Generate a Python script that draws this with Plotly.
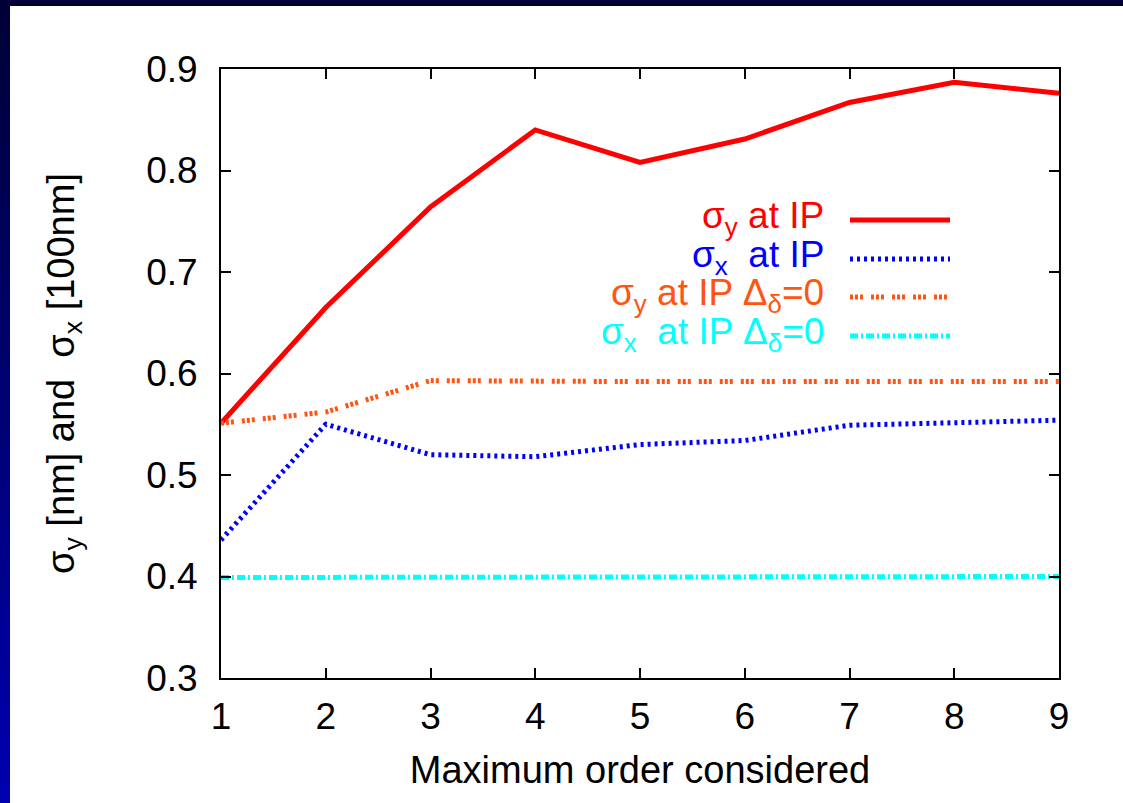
import plotly.graph_objects as go

orders = [1, 2, 3, 4, 5, 6, 7, 8, 9]
sigy_ip = [0.551, 0.665, 0.764, 0.840, 0.808, 0.831, 0.867, 0.887, 0.876]
sigx_ip = [0.436, 0.550, 0.520, 0.518, 0.530, 0.534, 0.549, 0.551, 0.554]
sigy_ip_d0 = [0.551, 0.562, 0.593, 0.592, 0.592, 0.592, 0.592, 0.592, 0.592]
sigx_ip_d0 = [0.399, 0.399, 0.399, 0.400, 0.400, 0.400, 0.400, 0.400, 0.400]

names = ["σ<sub>y</sub> at IP", "σ<sub>x</sub>  at IP",
         "σ<sub>y</sub> at IP Δ<sub>δ</sub>=0", "σ<sub>x</sub>  at IP Δ<sub>δ</sub>=0"]
colors = ["#ff0000", "#0000ff", "#ff5412", "#00ffff"]
dashes = ["solid", "3px,4px", "3px,2px,3px,2px,3px,8px", "8px,3px,2px,3px"]
series = [sigy_ip, sigx_ip, sigy_ip_d0, sigx_ip_d0]

W, H = 1123, 803
L, R, T, B = 221, 1059, 69, 678
pw, ph = R - L, B - T

def px(x):
    return (x - L) / pw

def py(y):
    return (B - y) / ph

fig = go.Figure()
for ys, c, d in zip(series, colors, dashes):
    fig.add_trace(go.Scatter(x=orders, y=ys, mode="lines",
                             line=dict(color=c, width=5, dash=d),
                             showlegend=False, hoverinfo="skip"))

shapes = []
# white panel
shapes.append(dict(type="rect", xref="paper", yref="paper", layer="below",
                   x0=px(10), x1=px(W + 5), y0=py(H + 5), y1=py(6),
                   fillcolor="white", line=dict(width=0)))
# top band
shapes.append(dict(type="rect", xref="paper", yref="paper", layer="below",
                   x0=px(-5), x1=px(W + 5), y0=py(6), y1=py(-5),
                   fillcolor="#000036", line=dict(width=0)))
# left gradient band
n = 40
for i in range(n):
    y0 = i * H / n - (5 if i == 0 else 0)
    y1 = (i + 1) * H / n + (1 if i < n - 1 else 5)
    f = (i + 0.5) / n
    b = int(0x36 + (0xb0 - 0x36) * f)
    shapes.append(dict(type="rect", xref="paper", yref="paper", layer="below",
                       x0=px(-5), x1=px(10), y0=py(y1), y1=py(y0),
                       fillcolor=f"rgb(0,0,{b})", line=dict(width=0)))

# legend
rows = [218, 257, 295, 334]
annotations = []
for nm, c, d, yy in zip(names, colors, dashes, rows):
    annotations.append(dict(text=nm, xref="paper", yref="paper", x=px(826), y=py(yy),
                            xanchor="right", yanchor="middle", showarrow=False,
                            font=dict(color=c, size=37, family="Liberation Sans, Arial")))
    shapes.append(dict(type="line", xref="paper", yref="paper",
                       x0=px(850), x1=px(950), y0=py(yy + 2), y1=py(yy + 2),
                       line=dict(color=c, width=5, dash=d)))

axis_common = dict(showline=True, linecolor="black", linewidth=2, mirror="allticks",
                   ticks="inside", ticklen=10, tickwidth=2, tickcolor="black",
                   showgrid=False, zeroline=False,
                   tickfont=dict(size=37, color="black", family="Liberation Sans, Arial"))

fig.update_layout(
    width=W, height=H,
    margin=dict(l=L, r=W - R, t=T, b=H - B),
    paper_bgcolor="#000036", plot_bgcolor="white",
    font=dict(family="Liberation Sans, Arial", color="black"),
    shapes=shapes, annotations=annotations,
    xaxis=dict(range=[1, 9], tickvals=orders, ticklabelstandoff=5, **axis_common,
               title=dict(text="Maximum order considered", standoff=20,
                          font=dict(size=38, color="black"))),
    yaxis=dict(range=[0.3, 0.9], tickvals=[0.3, 0.4, 0.5, 0.6, 0.7, 0.8, 0.9],
               ticktext=["0.3", "0.4", "0.5", "0.6", "0.7", "0.8", "0.9"],
               ticklabelstandoff=14, **axis_common,
               title=dict(text="σ<sub>y</sub> [nm] and  σ<sub>x</sub> [100nm]", standoff=60,
                          font=dict(size=38, color="black"))),
)

fig.write_html("out.html", config={"displayModeBar": False},
               post_script="document.body.style.margin='0';document.body.style.padding='0';")
